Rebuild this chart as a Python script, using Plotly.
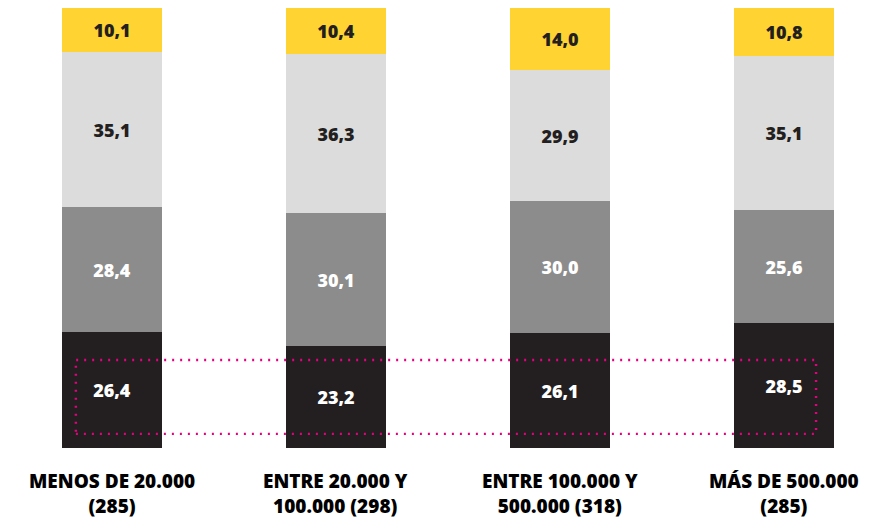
import plotly.graph_objects as go

categories = ["MENOS DE 20.000<br>(285)", "ENTRE 20.000 Y<br>100.000 (298)",
              "ENTRE 100.000 Y<br>500.000 (318)", "MÁS DE 500.000<br>(285)"]
serie_negra = [26.4, 23.2, 26.1, 28.5]
serie_gris = [28.4, 30.1, 30.0, 25.6]
serie_gris_claro = [35.1, 36.3, 29.9, 35.1]
serie_amarilla = [10.1, 10.4, 14.0, 10.8]

x = list(range(len(categories)))
FONT = "Open Sans"

series = [
    (serie_negra, "#231f20", "white"),
    (serie_gris, "#8c8c8c", "white"),
    (serie_gris_claro, "#dcdcdc", "#231f20"),
    (serie_amarilla, "#ffd332", "#231f20"),
]

fig = go.Figure()
for vals, col, tcol in series:
    fig.add_trace(go.Bar(
        x=x, y=vals, width=0.45,
        marker=dict(color=col, line=dict(width=0)),
        texttemplate="%{y:.1f}", textposition="inside",
        insidetextanchor="middle", constraintext="none",
        textfont=dict(family=FONT, size=18, color=tcol, weight=800),
        hoverinfo="skip", showlegend=False,
    ))

fig.add_shape(type="rect", xref="x", yref="y", x0=-0.161, x1=3.143, y0=3.2, y1=20.0,
              line=dict(color="#e6007e", width=2.4, dash="2px,6px"), fillcolor="rgba(0,0,0,0)")

for i, c in enumerate(categories):
    fig.add_annotation(x=i, xref="x", y=-0.103, yref="paper", text=c,
                       showarrow=False, yanchor="middle", borderpad=0,
                       font=dict(family=FONT, size=19, color="black", weight=800))

fig.update_layout(
    width=884, height=512, barmode="stack", bargap=0,
    separators=",.",
    margin=dict(l=0, r=0, t=0, b=72),
    plot_bgcolor="white", paper_bgcolor="white",
    xaxis=dict(range=[-0.464, 3.482], visible=False),
    yaxis=dict(range=[0, 100], visible=False),
)

fig.write_html("out.html")
